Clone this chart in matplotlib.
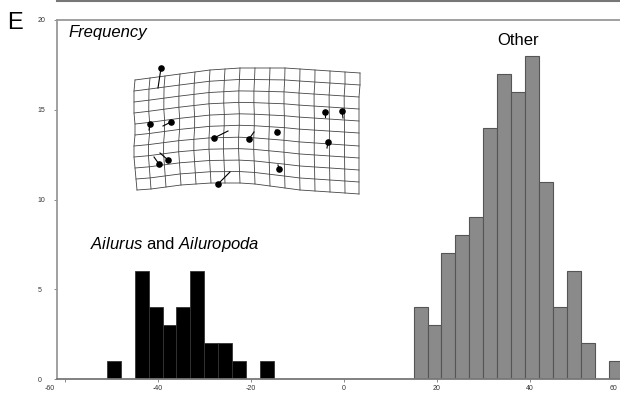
import numpy as np
import matplotlib
matplotlib.use("Agg")
import matplotlib.pyplot as plt
from matplotlib.lines import Line2D
from matplotlib.transforms import ScaledTranslation

plt.rcParams['font.family'] = ['Liberation Sans', 'DejaVu Sans']
plt.rcParams['mathtext.fontset'] = 'custom'
plt.rcParams['mathtext.rm'] = 'Liberation Sans'
plt.rcParams['mathtext.it'] = 'Liberation Sans:italic'

# histogram bins (left edge, width 3) and counts
bin_width = 3
ailuro_left = [-51, -45, -42, -39, -36, -33, -30, -27, -24, -18]
ailuro_count = [1, 6, 4, 3, 4, 6, 2, 2, 1, 1]
other_left = [15, 18, 21, 24, 27, 30, 33, 36, 39, 42, 45, 48, 51, 57]
other_count = [4, 3, 7, 8, 9, 14, 17, 16, 18, 11, 4, 6, 2, 1]

x_ticks = [-60, -40, -20, 0, 20, 40, 60]
y_ticks = [0, 5, 10, 15, 20]

# deformation grid outline (inset units), 16 columns x 11 rows of nodes
grid_top_x = [10, 25, 40, 55, 70, 85, 100, 115, 130, 145, 160, 175, 190, 205, 220, 235]
grid_top_y = [20, 18, 16, 14, 12, 10, 9, 8, 8, 8, 8, 9, 10, 11, 12, 13]
grid_bot_x = [12, 26, 41, 56, 71, 86, 100, 115, 130, 145, 160, 175, 190, 205, 220, 234]
grid_bot_y = [130, 129, 127, 125, 124, 123, 123, 123, 124, 126, 128, 130, 131, 132, 133, 134]
grid_left_x = [10, 9, 9, 9, 10, 10, 9, 9, 10, 11, 12]
grid_left_y = [20, 31, 42, 53, 64, 75, 86, 97, 108, 119, 130]
grid_right_x = [235, 235, 234, 234, 234, 234, 234, 234, 234, 234, 234]
grid_right_y = [13, 25, 37, 49, 61, 73, 86, 98, 110, 122, 134]

# landmarks and their displacement vectors (inset units)
lm_x = [36, 25, 46, 34, 43, 89, 124, 152, 154, 93, 200, 217, 203]
lm_y = [8, 64, 62, 104, 100, 78, 79, 72, 109, 124, 52, 51, 82]
lm_x2 = [33, 24, 38, 29, 35, 103, 129, 151, 153, 105, 200, 218, 202]
lm_y2 = [28, 70, 66, 97, 93, 71, 72, 70, 105, 112, 57, 58, 88]

fig = plt.figure(figsize=(6.2, 3.99), dpi=100)
ax = fig.add_axes([57 / 620, 20 / 399, 570 / 620, 359 / 399])

ax.bar(ailuro_left, ailuro_count, width=bin_width, align='edge',
       color='black', edgecolor='#333333', linewidth=0.6)
ax.bar(other_left, other_count, width=bin_width, align='edge',
       color='#8a8a8a', edgecolor='#555555', linewidth=0.8)

ax.set_xlim(-61.7, 60.9)
ax.set_ylim(0, 20)
ax.set_xticks(x_ticks)
ax.set_yticks(y_ticks)
ax.set_xticklabels([str(v) for v in x_ticks])
ax.tick_params(axis='both', labelsize=5, colors='#777777', labelcolor='#333333',
               length=2, width=0.6, direction='out', pad=2)
ax.tick_params(axis='y', pad=12)
for lab in ax.get_yticklabels():
    lab.set_horizontalalignment('left')
xlabs = ax.get_xticklabels()
xlabs[0].set_transform(xlabs[0].get_transform() + ScaledTranslation(-15 / 100, 0, fig.dpi_scale_trans))
xlabs[-1].set_transform(xlabs[-1].get_transform() + ScaledTranslation(-9 / 100, 0, fig.dpi_scale_trans))
for s in ['left', 'bottom', 'top']:
    ax.spines[s].set_color('#999999')
    ax.spines[s].set_linewidth(1.3)
ax.spines['bottom'].set_color('#777777')
ax.spines['right'].set_visible(False)

# panel border above
fig.add_artist(Line2D([57 / 620, 1], [1 - 1 / 399, 1 - 1 / 399],
                      transform=fig.transFigure, color='#777777', lw=1.5))

fig.text(7 / 620, 1 - 29 / 399, 'E', fontsize=17, va='baseline')
fig.text(68 / 620, 1 - 37 / 399, 'Frequency', fontsize=12, style='italic', va='baseline')
fig.text(497 / 620, 1 - 45 / 399, 'Other', fontsize=12, va='baseline')
fig.text(90 / 620, 1 - 249 / 399, r'$\it{Ailurus}$ and $\it{Ailuropoda}$',
         fontsize=12, va='baseline')

# inset: deformation grid (Coons patch through the outline)
ins = fig.add_axes([125 / 620, 1 - 200 / 399, 240 / 620, 140 / 399])
ins.set_xlim(0, 240)
ins.set_ylim(140, 0)
ins.axis('off')

tx, ty = np.array(grid_top_x, float), np.array(grid_top_y, float)
bx, by = np.array(grid_bot_x, float), np.array(grid_bot_y, float)
lx, ly = np.array(grid_left_x, float), np.array(grid_left_y, float)
rx, ry = np.array(grid_right_x, float), np.array(grid_right_y, float)
nc, nr = len(tx), len(lx)
u = np.linspace(0, 1, nc)[None, :]
v = np.linspace(0, 1, nr)[:, None]

def coons(top, bot, left, right):
    c00, c10, c01, c11 = top[0], top[-1], bot[0], bot[-1]
    return ((1 - v) * top[None, :] + v * bot[None, :]
            + (1 - u) * left[:, None] + u * right[:, None]
            - ((1 - u) * (1 - v) * c00 + u * (1 - v) * c10
               + (1 - u) * v * c01 + u * v * c11))

gx = coons(tx, bx, lx, rx)
gy = coons(ty, by, ly, ry)
for i in range(nr):
    ins.plot(gx[i, :], gy[i, :], color='#444444', lw=0.6)
for j in range(nc):
    ins.plot(gx[:, j], gy[:, j], color='#444444', lw=0.6)

for x1, y1, x2, y2 in zip(lm_x, lm_y, lm_x2, lm_y2):
    ins.plot([x1, x2], [y1, y2], color='black', lw=0.8)
ins.scatter(lm_x, lm_y, s=14, color='black', zorder=3)

fig.savefig('out.png', dpi=100)
